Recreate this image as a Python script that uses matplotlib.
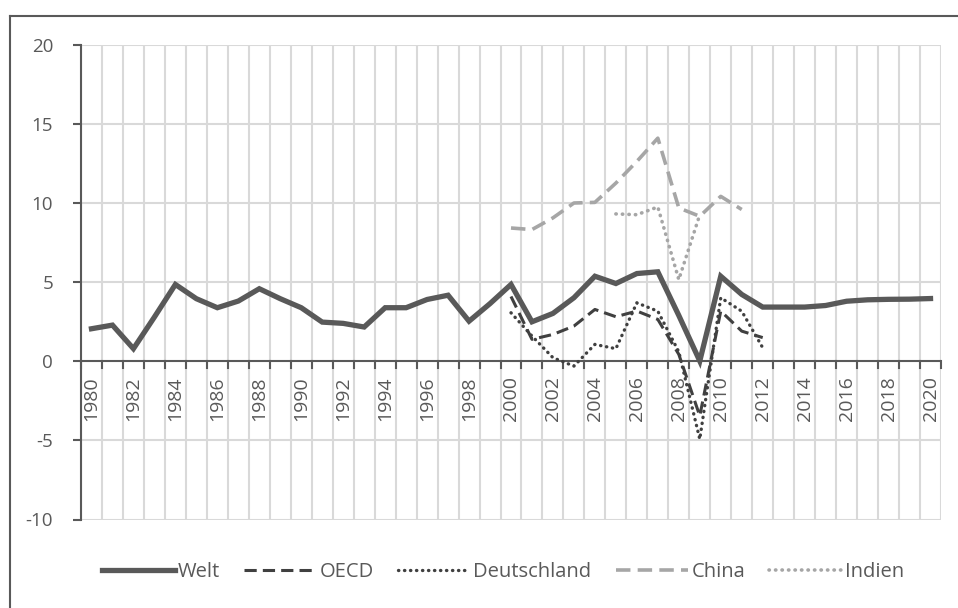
import matplotlib.pyplot as plt
import numpy as np
from matplotlib.lines import Line2D

# Jahre und Reihen
jahre = list(range(1980, 2021))

welt = [2.06, 2.29, 0.80, 2.8, 4.86, 3.96, 3.39, 3.81, 4.59, 3.96,
        3.39, 2.48, 2.40, 2.17, 3.39, 3.39, 3.91, 4.18, 2.54, 3.65,
        4.86, 2.50, 3.03, 4.02, 5.38, 4.92, 5.55, 5.66, 2.90, 0.02,
        5.38, 4.23, 3.43, 3.43, 3.43, 3.53, 3.80, 3.89, 3.92, 3.93, 3.97]

jahre_2000 = list(range(2000, 2013))
oecd = [4.1, 1.39, 1.70, 2.23, 3.28, 2.82, 3.18, 2.65, 0.44, -3.45, 3.18, 1.91, 1.5]
deutschland = [3.07, 1.6, 0.23, -0.3, 1.07, 0.8, 3.70, 3.17, 0.6, -4.92, 4.02, 3.17, 0.86]

jahre_china = list(range(2000, 2012))
china = [8.43, 8.33, 9.07, 10.01, 10.05, 11.27, 12.64, 14.11, 9.7, 9.17, 10.43, 9.6]

jahre_indien = list(range(2005, 2010))
indien = [9.32, 9.27, 9.76, 5.17, 9.27]

grau_dunkel = '#595959'
grau_hell = '#a6a6a6'
gitter = '#d9d9d9'

plt.rcParams['font.family'] = ['Open Sans', 'DejaVu Sans']
plt.rcParams['axes.unicode_minus'] = False

fig = plt.figure(figsize=(9.58, 6.08), dpi=100)
W, H = 958, 608
ax = fig.add_axes([81 / W, 1 - 519.5 / H, (941 - 81) / W, (519.5 - 45) / H])

ax.set_xlim(1979.5, 2020.5)
ax.set_ylim(-10, 20)

# Gitter
for gx in np.arange(1979.5, 2021.0, 1.0):
    ax.axvline(gx, color=gitter, lw=1.5, zorder=0)
for gy in range(-10, 21, 5):
    if gy != 0:
        ax.axhline(gy, color=gitter, lw=1.5, zorder=0)

# Nulllinie mit Strichen nach unten
ax.axhline(0, color=grau_dunkel, lw=1.5, zorder=1)
for gx in np.arange(1979.5, 2021.0, 1.0):
    ax.plot([gx, gx], [0, -0.45], color=grau_dunkel, lw=1.5, zorder=1, clip_on=False)

for s in ['top', 'right', 'bottom']:
    ax.spines[s].set_visible(False)
ax.spines['left'].set_color(grau_dunkel)
ax.spines['left'].set_linewidth(1.5)
ax.set_xticks([])
ax.set_yticks(range(-10, 21, 5))
ax.tick_params(axis='y', colors=grau_dunkel, labelcolor=grau_dunkel, length=6, width=1.5,
               labelsize=13.5, pad=14)

for j in jahre[::2]:
    ax.text(j, -0.95, str(j), rotation=90, ha='center', va='top', fontsize=14,
            color=grau_dunkel)

# Linien
ax.plot(jahre, welt, color=grau_dunkel, lw=3.8, solid_joinstyle='miter', zorder=5, label='Welt')
ax.plot(jahre_2000, oecd, color='#404040', lw=2.2, dashes=(4, 2), zorder=4, label='OECD')
ax.plot(jahre_2000, deutschland, color='#404040', lw=2.4, dashes=(0.1, 1.7),
        dash_capstyle='round', zorder=4, label='Deutschland')
ax.plot(jahre_china, china, color=grau_hell, lw=2.6, dashes=(4, 2), zorder=3, label='China')
ax.plot(jahre_indien, indien, color=grau_hell, lw=2.6, dashes=(0.1, 1.7),
        dash_capstyle='round', zorder=3, label='Indien')

# Rahmen links/oben
fig.add_artist(Line2D([10 / W, 10 / W], [0, 1 - 16 / H], color=grau_dunkel, lw=1.5))
fig.add_artist(Line2D([10 / W, 1], [1 - 16 / H, 1 - 16 / H], color=grau_dunkel, lw=1.5))

leg = fig.legend(loc='center', bbox_to_anchor=(0.525, 1 - 572 / H), ncol=5, frameon=False,
                 handlelength=3.6, handletextpad=0.15, columnspacing=1.2,
                 prop={'family': ['Open Sans', 'DejaVu Sans'], 'size': 14.5})
for t in leg.get_texts():
    t.set_color(grau_dunkel)

fig.savefig('out.png', dpi=100)
